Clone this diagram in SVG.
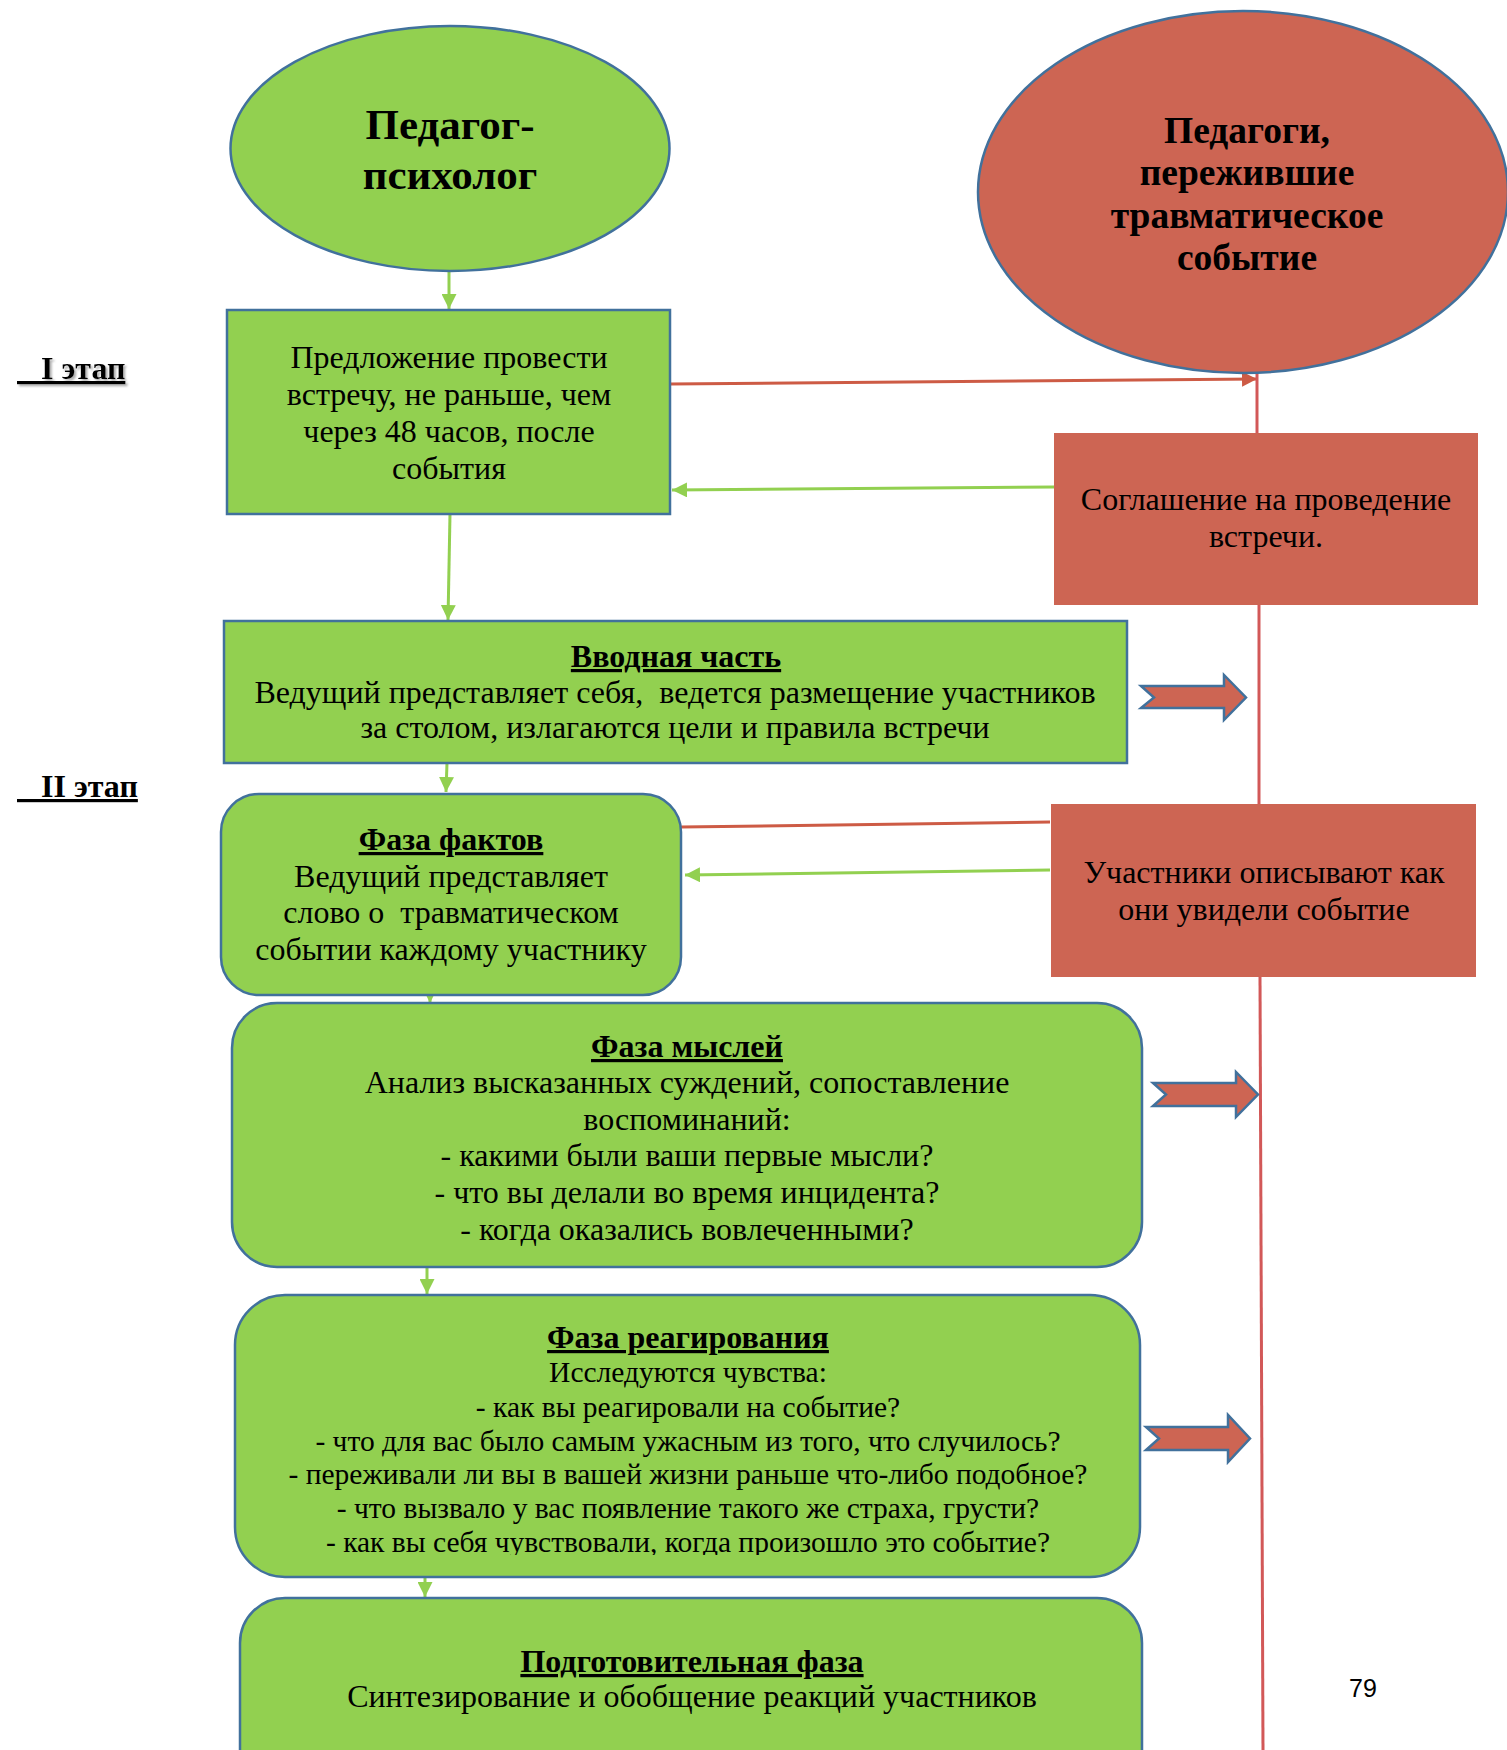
<svg xmlns="http://www.w3.org/2000/svg" width="1507" height="1750" viewBox="0 0 1507 1750">
<style>
.t{font-family:"Liberation Serif","Times New Roman",serif;fill:#000;text-anchor:middle;font-size:32px}
.s{font-family:"Liberation Serif","Times New Roman",serif;fill:#000;text-anchor:start;font-size:32px;font-weight:bold;text-decoration:underline}
.b{font-weight:bold}
.u{text-decoration:underline}
.sm{font-size:29.5px}
.g{fill:#92D050;stroke:#41719C;stroke-width:2.5}
.r{fill:#CD6553}
.rb{fill:#CD6553;stroke:#41719C;stroke-width:2.5}
.gl{stroke:#92D050;stroke-width:3;fill:none}
.rl{stroke:#CD5B45;stroke-width:3;fill:none}
.vl{stroke:#D25858;stroke-width:3;fill:none}
</style>
<defs>
<marker id="ga" viewBox="0 0 10 10" refX="10" refY="5" markerWidth="5" markerHeight="5" orient="auto" markerUnits="strokeWidth">
<path d="M0,0 L10,5 L0,10 z" fill="#92D050"/>
</marker>
<marker id="ra" viewBox="0 0 10 10" refX="10" refY="5" markerWidth="5" markerHeight="5" orient="auto" markerUnits="strokeWidth">
<path d="M0,0 L10,5 L0,10 z" fill="#CD5B45"/>
</marker>
<filter id="sh" x="-10%" y="-20%" width="130%" height="160%">
<feDropShadow dx="2" dy="2" stdDeviation="1" flood-color="#888" flood-opacity="0.7"/>
</filter>
<clipPath id="cl"><rect x="0" y="0" width="1507" height="1555"/></clipPath>
</defs>

<g id="labels">
<text class="s" x="17" y="379" filter="url(#sh)" xml:space="preserve">   I этап</text>
<text class="s" x="17" y="797" xml:space="preserve">   II этап</text>
<text x="1363" y="1697" font-family="Liberation Sans, Arial, sans-serif" font-size="25" text-anchor="middle">79</text>
</g>

<g id="connectors">
<line class="gl" x1="449" y1="271" x2="449" y2="309" marker-end="url(#ga)"/>
<line class="gl" x1="450" y1="514" x2="448" y2="620" marker-end="url(#ga)"/>
<line class="gl" x1="447" y1="763" x2="446" y2="792" marker-end="url(#ga)"/>
<line class="gl" x1="430" y1="995" x2="430" y2="1003" marker-end="url(#ga)"/>
<line class="gl" x1="427" y1="1267" x2="427" y2="1294" marker-end="url(#ga)"/>
<line class="gl" x1="425" y1="1577" x2="425" y2="1597" marker-end="url(#ga)"/>
<line class="rl" x1="670" y1="384" x2="1257" y2="379" marker-end="url(#ra)"/>
<line class="gl" x1="1054" y1="487" x2="672" y2="490" marker-end="url(#ga)"/>
<line class="rl" x1="681" y1="827" x2="1050" y2="822"/>
<line class="gl" x1="1050" y1="870" x2="685" y2="875" marker-end="url(#ga)"/>
<line class="vl" x1="1257" y1="373" x2="1257" y2="433"/>
<line class="vl" x1="1259" y1="605" x2="1259" y2="804"/>
<line class="vl" x1="1260" y1="977" x2="1263" y2="1750"/>
<path class="rb" d="M1141,686 L1224,686 L1224,675 L1246,697.5 L1224,720 L1224,708 L1141,708 L1154,697.5 Z"/>
<path class="rb" d="M1153,1083 L1236,1083 L1236,1072 L1258,1094.5 L1236,1117 L1236,1106 L1153,1106 L1166,1094.5 Z"/>
<path class="rb" d="M1146,1427 L1228,1427 L1228,1415 L1250,1438.5 L1228,1462 L1228,1450 L1146,1450 L1159,1438.5 Z"/>
</g>

<g id="n-psych">
<ellipse class="g" cx="450" cy="148.5" rx="219.5" ry="122.5"/>
<text class="t b" x="450" y="139" style="font-size:43px">Педагог-</text>
<text class="t b" x="450" y="189" style="font-size:43px">психолог</text>
</g>

<g id="n-teachers">
<ellipse class="rb" cx="1243" cy="192" rx="265" ry="181"/>
<text class="t b" x="1247" y="143" style="font-size:37.5px">Педагоги,</text>
<text class="t b" x="1247" y="185" style="font-size:37.5px">пережившие</text>
<text class="t b" x="1247" y="228" style="font-size:37.5px">травматическое</text>
<text class="t b" x="1247" y="270" style="font-size:37.5px">событие</text>
</g>

<g id="n-offer">
<rect class="g" x="227" y="310" width="443" height="204"/>
<text class="t" x="449" y="368">Предложение провести</text>
<text class="t" x="449" y="405">встречу, не раньше, чем</text>
<text class="t" x="449" y="442">через 48 часов, после</text>
<text class="t" x="449" y="479">события</text>
</g>

<g id="n-agree">
<rect class="r" x="1054" y="433" width="424" height="172"/>
<text class="t" x="1266" y="510">Соглашение на проведение</text>
<text class="t" x="1266" y="547">встречи.</text>
</g>

<g id="n-intro">
<rect class="g" x="224" y="621" width="903" height="142"/>
<text class="t b u" x="676" y="667">Вводная часть</text>
<text class="t" x="675" y="703" xml:space="preserve">Ведущий представляет себя,  ведется размещение участников</text>
<text class="t" x="675" y="738">за столом, излагаются цели и правила встречи</text>
</g>

<g id="n-facts">
<rect class="g" x="221" y="794" width="460" height="201" rx="38" ry="38"/>
<text class="t b u" x="451" y="850">Фаза фактов</text>
<text class="t" x="451" y="887">Ведущий представляет</text>
<text class="t" x="451" y="923" xml:space="preserve">слово о  травматическом</text>
<text class="t" x="451" y="960">событии каждому участнику</text>
</g>

<g id="n-describe">
<rect class="r" x="1051" y="804" width="425" height="173"/>
<text class="t" x="1264" y="883">Участники описывают как</text>
<text class="t" x="1264" y="920">они увидели событие</text>
</g>

<g id="n-thoughts">
<rect class="g" x="232" y="1003" width="910" height="264" rx="45" ry="45"/>
<text class="t b u" x="687" y="1057">Фаза мыслей</text>
<text class="t" x="687" y="1093">Анализ высказанных суждений, сопоставление</text>
<text class="t" x="687" y="1130">воспоминаний:</text>
<text class="t" x="687" y="1166">- какими были ваши первые мысли?</text>
<text class="t" x="687" y="1203">- что вы делали во время инцидента?</text>
<text class="t" x="687" y="1240">- когда оказались вовлеченными?</text>
</g>

<g id="n-react">
<rect class="g" x="235" y="1295" width="905" height="282" rx="50" ry="50"/>
<text class="t b u" x="688" y="1348">Фаза реагирования</text>
<text class="t sm" x="688" y="1382">Исследуются чувства:</text>
<text class="t sm" x="688" y="1417">- как вы реагировали на событие?</text>
<text class="t sm" x="688" y="1451">- что для вас было самым ужасным из того, что случилось?</text>
<text class="t sm" x="688" y="1484">- переживали ли вы в вашей жизни раньше что-либо подобное?</text>
<text class="t sm" x="688" y="1518">- что вызвало у вас появление такого же страха, грусти?</text>
<text class="t sm" x="688" y="1552" clip-path="url(#cl)">- как вы себя чувствовали, когда произошло это событие?</text>
</g>

<g id="n-prep">
<rect class="g" x="240" y="1598" width="902" height="200" rx="45" ry="45"/>
<text class="t b u" x="692" y="1672">Подготовительная фаза</text>
<text class="t" x="692" y="1707">Синтезирование и обобщение реакций участников</text>
</g>
</svg>
